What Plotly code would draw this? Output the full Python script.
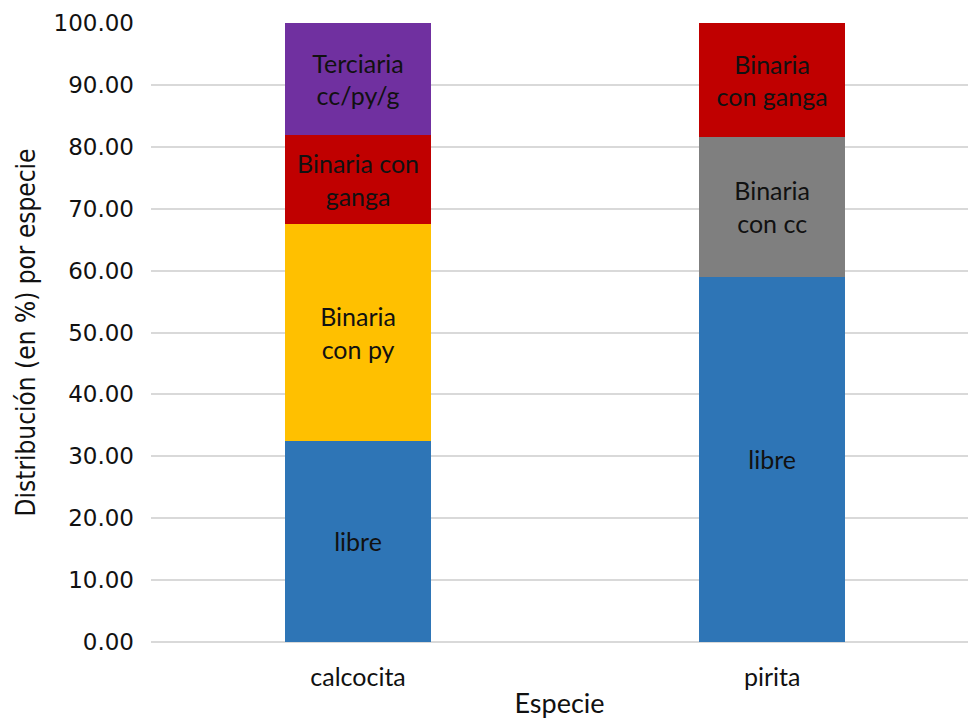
import plotly.graph_objects as go

# Distribution of each mineral species by association type (%)
especies = ["calcocita", "pirita"]

libre = [32.55, 59.03]
binaria_py = [34.95, None]
binaria_cc = [None, 22.60]
binaria_ganga = [14.40, 18.37]
terciaria = [18.10, None]

series = [
    ("libre", libre, "#2E75B6", ["libre", "libre"]),
    ("Binaria con py", binaria_py, "#FFC000", ["Binaria<br>con py", ""]),
    ("Binaria con cc", binaria_cc, "#7F7F7F", ["", "Binaria<br>con cc"]),
    ("Binaria con ganga", binaria_ganga, "#C00000", ["Binaria con<br>ganga", "Binaria<br>con ganga"]),
    ("Terciaria cc/py/g", terciaria, "#7030A0", ["Terciaria<br>cc/py/g", ""]),
]

font_main = "Lato, 'Open Sans', sans-serif"
ink = "#111111"

fig = go.Figure()
for name, vals, color, labels in series:
    fig.add_trace(go.Bar(
        name=name,
        x=especies,
        y=vals,
        width=0.353,
        marker=dict(color=color, line=dict(width=0)),
        text=labels,
        texttemplate="%{text}",
        textposition="inside",
        insidetextanchor="middle",
        textangle=0,
        constraintext="none",
        textfont=dict(family=font_main, size=25, color=ink),
        hoverinfo="skip",
    ))

fig.update_layout(
    barmode="stack",
    width=968,
    height=719,
    margin=dict(l=151, r=0, t=23, b=77),
    paper_bgcolor="white",
    plot_bgcolor="white",
    showlegend=False,
    font=dict(family=font_main, color=ink),
    xaxis=dict(
        range=[-0.5, 1.473],
        showgrid=False,
        showline=False,
        tickfont=dict(size=25, color=ink),
        ticklabelstandoff=18,
        title=dict(text="Especie", font=dict(size=27, color=ink), standoff=7),
    ),
    yaxis=dict(
        range=[0, 100],
        dtick=10,
        tickformat=".2f",
        showgrid=True,
        gridcolor="#D9D9D9",
        gridwidth=1.5,
        zeroline=True,
        zerolinecolor="#D9D9D9",
        zerolinewidth=1.5,
        showline=False,
        tickfont=dict(family="'DejaVu Sans', sans-serif", size=23, color=ink),
        ticklabelstandoff=16,
        title=dict(text="Distribución (en %) por especie",
                   font=dict(family="'DejaVu Sans Condensed', 'Liberation Sans Narrow', sans-serif",
                             size=26, color=ink),
                   standoff=10),
    ),
)

fig.write_html("out.html")
